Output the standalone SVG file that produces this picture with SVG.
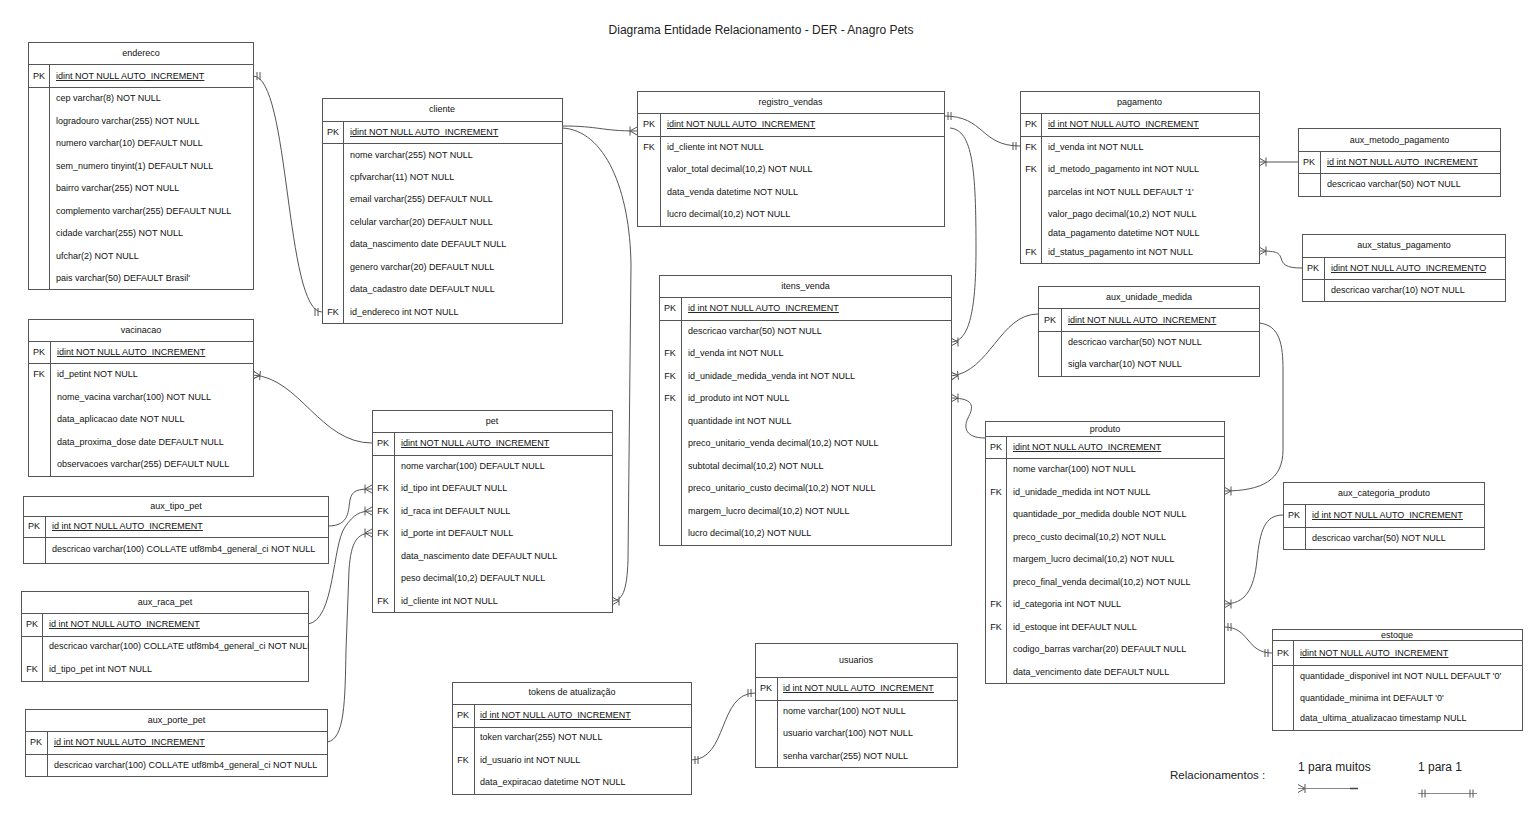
<svg xmlns="http://www.w3.org/2000/svg" width="1532" height="817" viewBox="0 0 1532 817">
<style>
.box{fill:#fff;stroke:#555;stroke-width:1}
.sep{fill:none;stroke:#555;stroke-width:1}
text{font-family:"Liberation Sans",Arial,sans-serif;fill:#111}
.hd{font-size:9px;text-anchor:middle}
.kl{font-size:9px;text-anchor:middle}
.f{font-size:9px}
.pk{text-decoration:underline}
.title{font-size:12px;text-anchor:middle;fill:#222}
.leg{font-size:12px;fill:#222}
.cn{fill:none;stroke:#555;stroke-width:1}
</style>
<defs>
<marker id="many" viewBox="0 0 12 12" refX="12" refY="6" markerWidth="12" markerHeight="12" markerUnits="userSpaceOnUse" orient="auto">
<path d="M5,1.5V10.5M5,6L12,2M5,6L12,10" fill="none" stroke="#555" stroke-width="1"/>
</marker>
<marker id="one" viewBox="0 0 12 12" refX="12" refY="6" markerWidth="12" markerHeight="12" markerUnits="userSpaceOnUse" orient="auto-start-reverse">
<path d="M5,2V10M8,2V10" fill="none" stroke="#555" stroke-width="1"/>
</marker>
<clipPath id="clipRaca"><rect x="21" y="591" width="287.5" height="91"/></clipPath>
</defs>

<text class="title" x="761" y="34">Diagrama Entidade Relacionamento - DER - Anagro Pets</text>

<g id="connectors">
<path class="cn" d="M253,76 C290,76 285,312 322,312" marker-start="url(#one)" marker-end="url(#one)"/>
<path class="cn" d="M562,126 C600,126 600,131 637,131" marker-end="url(#many)"/>
<path class="cn" d="M562,128 C605,130 630,190 631,265 L628,560 C627,592 622,601 612,601" marker-end="url(#many)"/>
<path class="cn" d="M944,116 C985,116 980,146 1020,146" marker-start="url(#one)" marker-end="url(#one)"/>
<path class="cn" d="M950,128 C973,130 976,170 976,250 C976,315 968,342 951,342" marker-end="url(#many)"/>
<path class="cn" d="M1298,162 L1259,162" marker-end="url(#many)"/>
<path class="cn" d="M1302,268 C1285,268 1283,264 1281,258 C1279,252 1275,251 1259,251" marker-end="url(#many)"/>
<path class="cn" d="M1038,314 C1000,314 990,372 951,376" marker-end="url(#many)"/>
<path class="cn" d="M1259,323 C1280,325 1283,345 1283,370 L1283,450 C1283,480 1262,491 1224,491" marker-end="url(#many)"/>
<path class="cn" d="M985,438 C966,438 963,428 968,418 C972,410 978,398 951,398" marker-end="url(#many)"/>
<path class="cn" d="M1283,515 C1265,515 1260,530 1257,560 C1254,590 1245,604 1224,604" marker-end="url(#many)"/>
<path class="cn" d="M1224,627 C1250,627 1246,653 1272,653" marker-start="url(#one)" marker-end="url(#one)"/>
<path class="cn" d="M372,443 C320,443 300,378 253,375" marker-end="url(#many)"/>
<path class="cn" d="M328,526 C350,526 348,510 350,500 C352,490 358,489 372,489" marker-end="url(#many)"/>
<path class="cn" d="M308,624 C335,620 332,545 345,527 C354,514 360,511 372,511" marker-end="url(#many)"/>
<path class="cn" d="M327,742 C345,740 345,700 346,650 L349,570 C351,540 358,533 372,533" marker-end="url(#many)"/>
<path class="cn" d="M691,760 C728,760 718,693 755,693" marker-start="url(#one)" marker-end="url(#one)"/>
</g>

<g id="endereco">
<rect class="box" x="28.5" y="42.5" width="225" height="247"/>
<path class="sep" d="M28.5,64.5H253.5M28.5,87.5H253.5M49.5,64.5V289.5"/>
<text class="hd" x="141" y="56">endereco</text>
<text class="kl" x="39" y="79">PK</text>
<text class="f pk" x="56" y="79">idint NOT NULL AUTO_INCREMENT</text>
<text class="f" x="56" y="101">cep varchar(8) NOT NULL</text>
<text class="f" x="56" y="124">logradouro varchar(255) NOT NULL</text>
<text class="f" x="56" y="146">numero varchar(10) DEFAULT NULL</text>
<text class="f" x="56" y="169">sem_numero tinyint(1) DEFAULT NULL</text>
<text class="f" x="56" y="191">bairro varchar(255) NOT NULL</text>
<text class="f" x="56" y="214">complemento varchar(255) DEFAULT NULL</text>
<text class="f" x="56" y="236">cidade varchar(255) NOT NULL</text>
<text class="f" x="56" y="259">ufchar(2) NOT NULL</text>
<text class="f" x="56" y="281">pais varchar(50) DEFAULT Brasil'</text>
</g>

<g id="cliente">
<rect class="box" x="322.5" y="98.5" width="240" height="225"/>
<path class="sep" d="M322.5,121.5H562.5M322.5,143.5H562.5M343.5,121.5V323.5"/>
<text class="hd" x="442" y="112">cliente</text>
<text class="kl" x="333" y="135">PK</text>
<text class="f pk" x="350" y="135">idint NOT NULL AUTO_INCREMENT</text>
<text class="f" x="350" y="158">nome varchar(255) NOT NULL</text>
<text class="f" x="350" y="180">cpfvarchar(11) NOT NULL</text>
<text class="f" x="350" y="202">email varchar(255) DEFAULT NULL</text>
<text class="f" x="350" y="225">celular varchar(20) DEFAULT NULL</text>
<text class="f" x="350" y="247">data_nascimento date DEFAULT NULL</text>
<text class="f" x="350" y="270">genero varchar(20) DEFAULT NULL</text>
<text class="f" x="350" y="292">data_cadastro date DEFAULT NULL</text>
<text class="kl" x="333" y="315">FK</text>
<text class="f" x="350" y="315">id_endereco int NOT NULL</text>
</g>

<g id="registro_vendas">
<rect class="box" x="637.5" y="91.5" width="307" height="135"/>
<path class="sep" d="M637.5,113.5H944.5M637.5,136.5H944.5M660.5,113.5V226.5"/>
<text class="hd" x="790.5" y="105">registro_vendas</text>
<text class="kl" x="649" y="127">PK</text>
<text class="f pk" x="667" y="127">idint NOT NULL AUTO_INCREMENT</text>
<text class="kl" x="649" y="150">FK</text>
<text class="f" x="667" y="150">id_cliente int NOT NULL</text>
<text class="f" x="667" y="172">valor_total decimal(10,2) NOT NULL</text>
<text class="f" x="667" y="195">data_venda datetime NOT NULL</text>
<text class="f" x="667" y="217">lucro decimal(10,2) NOT NULL</text>
</g>

<g id="pagamento">
<rect class="box" x="1020.5" y="91.5" width="239" height="172"/>
<path class="sep" d="M1020.5,113.5H1259.5M1020.5,136.5H1259.5M1041.5,113.5V263.5"/>
<text class="hd" x="1139.5" y="105">pagamento</text>
<text class="kl" x="1031" y="127">PK</text>
<text class="f pk" x="1048" y="127">id int NOT NULL AUTO_INCREMENT</text>
<text class="kl" x="1031" y="150">FK</text>
<text class="f" x="1048" y="150">id_venda int NOT NULL</text>
<text class="kl" x="1031" y="172">FK</text>
<text class="f" x="1048" y="172">id_metodo_pagamento int NOT NULL</text>
<text class="f" x="1048" y="195">parcelas int NOT NULL DEFAULT '1'</text>
<text class="f" x="1048" y="217">valor_pago decimal(10,2) NOT NULL</text>
<text class="f" x="1048" y="236">data_pagamento datetime NOT NULL</text>
<text class="kl" x="1031" y="255">FK</text>
<text class="f" x="1048" y="255">id_status_pagamento int NOT NULL</text>
</g>

<g id="aux_metodo_pagamento">
<rect class="box" x="1298.5" y="128.5" width="202" height="68"/>
<path class="sep" d="M1298.5,151.5H1500.5M1298.5,173.5H1500.5M1320.5,151.5V196.5"/>
<text class="hd" x="1399.5" y="143">aux_metodo_pagamento</text>
<text class="kl" x="1309" y="165">PK</text>
<text class="f pk" x="1327" y="165">id int NOT NULL AUTO_INCREMENT</text>
<text class="f" x="1327" y="187">descricao varchar(50) NOT NULL</text>
</g>

<g id="aux_status_pagamento">
<rect class="box" x="1302.5" y="234.5" width="203" height="67"/>
<path class="sep" d="M1302.5,257.5H1505.5M1302.5,279.5H1505.5M1324.5,257.5V301.5"/>
<text class="hd" x="1404" y="248">aux_status_pagamento</text>
<text class="kl" x="1313" y="271">PK</text>
<text class="f pk" x="1331" y="271">idint NOT NULL AUTO_INCREMENTO</text>
<text class="f" x="1331" y="293">descricao varchar(10) NOT NULL</text>
</g>

<g id="aux_unidade_medida">
<rect class="box" x="1038.5" y="286.5" width="221" height="90"/>
<path class="sep" d="M1038.5,308.5H1259.5M1038.5,331.5H1259.5M1061.5,308.5V376.5"/>
<text class="hd" x="1149" y="300">aux_unidade_medida</text>
<text class="kl" x="1050" y="323">PK</text>
<text class="f pk" x="1068" y="323">idint NOT NULL AUTO_INCREMENT</text>
<text class="f" x="1068" y="345">descricao varchar(50) NOT NULL</text>
<text class="f" x="1068" y="367">sigla varchar(10) NOT NULL</text>
</g>

<g id="itens_venda">
<rect class="box" x="659.5" y="275.5" width="292" height="270"/>
<path class="sep" d="M659.5,297.5H951.5M659.5,320.5H951.5M681.5,297.5V545.5"/>
<text class="hd" x="805.5" y="289">itens_venda</text>
<text class="kl" x="670" y="311">PK</text>
<text class="f pk" x="688" y="311">id int NOT NULL AUTO_INCREMENT</text>
<text class="f" x="688" y="334">descricao varchar(50) NOT NULL</text>
<text class="kl" x="670" y="356">FK</text>
<text class="f" x="688" y="356">id_venda int NOT NULL</text>
<text class="kl" x="670" y="379">FK</text>
<text class="f" x="688" y="379">id_unidade_medida_venda int NOT NULL</text>
<text class="kl" x="670" y="401">FK</text>
<text class="f" x="688" y="401">id_produto int NOT NULL</text>
<text class="f" x="688" y="424">quantidade int NOT NULL</text>
<text class="f" x="688" y="446">preco_unitario_venda decimal(10,2) NOT NULL</text>
<text class="f" x="688" y="469">subtotal decimal(10,2) NOT NULL</text>
<text class="f" x="688" y="491">preco_unitario_custo decimal(10,2) NOT NULL</text>
<text class="f" x="688" y="514">margem_lucro decimal(10,2) NOT NULL</text>
<text class="f" x="688" y="536">lucro decimal(10,2) NOT NULL</text>
</g>

<g id="produto">
<rect class="box" x="985.5" y="421.5" width="239" height="262"/>
<path class="sep" d="M985.5,436.5H1224.5M985.5,458.5H1224.5M1006.5,436.5V683.5"/>
<text class="hd" x="1105" y="431.5">produto</text>
<text class="kl" x="996" y="450">PK</text>
<text class="f pk" x="1013" y="450">idint NOT NULL AUTO_INCREMENT</text>
<text class="f" x="1013" y="472">nome varchar(100) NOT NULL</text>
<text class="kl" x="996" y="495">FK</text>
<text class="f" x="1013" y="495">id_unidade_medida int NOT NULL</text>
<text class="f" x="1013" y="517">quantidade_por_medida double NOT NULL</text>
<text class="f" x="1013" y="540">preco_custo decimal(10,2) NOT NULL</text>
<text class="f" x="1013" y="562">margem_lucro decimal(10,2) NOT NULL</text>
<text class="f" x="1013" y="585">preco_final_venda decimal(10,2) NOT NULL</text>
<text class="kl" x="996" y="607">FK</text>
<text class="f" x="1013" y="607">id_categoria int NOT NULL</text>
<text class="kl" x="996" y="630">FK</text>
<text class="f" x="1013" y="630">id_estoque int DEFAULT NULL</text>
<text class="f" x="1013" y="652">codigo_barras varchar(20) DEFAULT NULL</text>
<text class="f" x="1013" y="675">data_vencimento date DEFAULT NULL</text>
</g>

<g id="aux_categoria_produto">
<rect class="box" x="1283.5" y="482.5" width="201" height="67"/>
<path class="sep" d="M1283.5,504.5H1484.5M1283.5,527.5H1484.5M1305.5,504.5V549.5"/>
<text class="hd" x="1384" y="496">aux_categoria_produto</text>
<text class="kl" x="1294" y="518">PK</text>
<text class="f pk" x="1312" y="518">id int NOT NULL AUTO_INCREMENT</text>
<text class="f" x="1312" y="541">descricao varchar(50) NOT NULL</text>
</g>

<g id="estoque">
<rect class="box" x="1272.5" y="629.5" width="250" height="101"/>
<path class="sep" d="M1272.5,640.5H1522.5M1272.5,665.5H1522.5M1293.5,640.5V730.5"/>
<text class="hd" x="1397" y="638">estoque</text>
<text class="kl" x="1283" y="656">PK</text>
<text class="f pk" x="1300" y="656">idint NOT NULL AUTO_INCREMENT</text>
<text class="f" x="1300" y="679">quantidade_disponivel int NOT NULL DEFAULT '0'</text>
<text class="f" x="1300" y="701">quantidade_minima int DEFAULT '0'</text>
<text class="f" x="1300" y="721">data_ultima_atualizacao timestamp NULL</text>
</g>

<g id="vacinacao">
<rect class="box" x="28.5" y="319.5" width="225" height="157"/>
<path class="sep" d="M28.5,341.5H253.5M28.5,363.5H253.5M50.5,341.5V476.5"/>
<text class="hd" x="141" y="333">vacinacao</text>
<text class="kl" x="39" y="355">PK</text>
<text class="f pk" x="57" y="355">idint NOT NULL AUTO_INCREMENT</text>
<text class="kl" x="39" y="377">FK</text>
<text class="f" x="57" y="377">id_petint NOT NULL</text>
<text class="f" x="57" y="400">nome_vacina varchar(100) NOT NULL</text>
<text class="f" x="57" y="422">data_aplicacao date NOT NULL</text>
<text class="f" x="57" y="445">data_proxima_dose date DEFAULT NULL</text>
<text class="f" x="57" y="467">observacoes varchar(255) DEFAULT NULL</text>
</g>

<g id="aux_tipo_pet">
<rect class="box" x="23.5" y="496.5" width="305" height="67"/>
<path class="sep" d="M23.5,516.5H328.5M23.5,537.5H328.5M45.5,516.5V563.5"/>
<text class="hd" x="176" y="509">aux_tipo_pet</text>
<text class="kl" x="34" y="529">PK</text>
<text class="f pk" x="52" y="529">id int NOT NULL AUTO_INCREMENT</text>
<text class="f" x="52" y="552">descricao varchar(100) COLLATE utf8mb4_general_ci NOT NULL</text>
</g>

<g id="aux_raca_pet">
<rect class="box" x="21.5" y="591.5" width="287" height="90"/>
<path class="sep" d="M21.5,613.5H308.5M21.5,636.5H308.5M42.5,613.5V681.5"/>
<text class="hd" x="165" y="605">aux_raca_pet</text>
<text class="kl" x="32" y="627">PK</text>
<text class="f pk" x="49" y="627">id int NOT NULL AUTO_INCREMENT</text>
<text class="f" x="49" y="649" clip-path="url(#clipRaca)">descricao varchar(100) COLLATE utf8mb4_general_ci NOT NULL</text>
<text class="kl" x="32" y="672">FK</text>
<text class="f" x="49" y="672">id_tipo_pet int NOT NULL</text>
</g>

<g id="aux_porte_pet">
<rect class="box" x="25.5" y="709.5" width="302" height="67"/>
<path class="sep" d="M25.5,731.5H327.5M25.5,754.5H327.5M47.5,731.5V776.5"/>
<text class="hd" x="176.5" y="723">aux_porte_pet</text>
<text class="kl" x="36" y="745">PK</text>
<text class="f pk" x="54" y="745">id int NOT NULL AUTO_INCREMENT</text>
<text class="f" x="54" y="768">descricao varchar(100) COLLATE utf8mb4_general_ci NOT NULL</text>
</g>

<g id="pet">
<rect class="box" x="372.5" y="410.5" width="240" height="202"/>
<path class="sep" d="M372.5,432.5H612.5M372.5,455.5H612.5M394.5,432.5V612.5"/>
<text class="hd" x="492" y="424">pet</text>
<text class="kl" x="383" y="446">PK</text>
<text class="f pk" x="401" y="446">idint NOT NULL AUTO_INCREMENT</text>
<text class="f" x="401" y="469">nome varchar(100) DEFAULT NULL</text>
<text class="kl" x="383" y="491">FK</text>
<text class="f" x="401" y="491">id_tipo int DEFAULT NULL</text>
<text class="kl" x="383" y="514">FK</text>
<text class="f" x="401" y="514">id_raca int DEFAULT NULL</text>
<text class="kl" x="383" y="536">FK</text>
<text class="f" x="401" y="536">id_porte int DEFAULT NULL</text>
<text class="f" x="401" y="559">data_nascimento date DEFAULT NULL</text>
<text class="f" x="401" y="581">peso decimal(10,2) DEFAULT NULL</text>
<text class="kl" x="383" y="604">FK</text>
<text class="f" x="401" y="604">id_cliente int NOT NULL</text>
</g>

<g id="tokens_de_atualizacao">
<rect class="box" x="452.5" y="682.5" width="239" height="112"/>
<path class="sep" d="M452.5,704.5H691.5M452.5,727.5H691.5M474.5,704.5V794.5"/>
<text class="hd" x="572" y="695">tokens de atualização</text>
<text class="kl" x="463" y="718">PK</text>
<text class="f pk" x="480" y="718">id int NOT NULL AUTO_INCREMENT</text>
<text class="f" x="480" y="740">token varchar(255) NOT NULL</text>
<text class="kl" x="463" y="763">FK</text>
<text class="f" x="480" y="763">id_usuario int NOT NULL</text>
<text class="f" x="480" y="785">data_expiracao datetime NOT NULL</text>
</g>

<g id="usuarios">
<rect class="box" x="755.5" y="643.5" width="202" height="124"/>
<path class="sep" d="M755.5,677.5H957.5M755.5,700.5H957.5M777.5,677.5V767.5"/>
<text class="hd" x="856" y="663">usuarios</text>
<text class="kl" x="766" y="691">PK</text>
<text class="f pk" x="783" y="691">id int NOT NULL AUTO_INCREMENT</text>
<text class="f" x="783" y="714">nome varchar(100) NOT NULL</text>
<text class="f" x="783" y="736">usuario varchar(100) NOT NULL</text>
<text class="f" x="783" y="759">senha varchar(255) NOT NULL</text>
</g>

<g id="legenda">
<text class="leg" x="1170" y="779" style="font-size:11.5px">Relacionamentos :</text>
<text class="leg" x="1298" y="771">1 para muitos</text>
<text class="leg" x="1418" y="771">1 para 1</text>
<path d="M1358,788.5 L1298,788.5" fill="none" stroke="#888" stroke-width="1" marker-end="url(#many)"/>
<path d="M1350,788.5 L1358,788.5" fill="none" stroke="#444" stroke-width="1.5"/>
<path d="M1418,793.5 L1477,793.5" fill="none" stroke="#888" stroke-width="1" marker-start="url(#one)" marker-end="url(#one)"/>
</g>
</svg>
